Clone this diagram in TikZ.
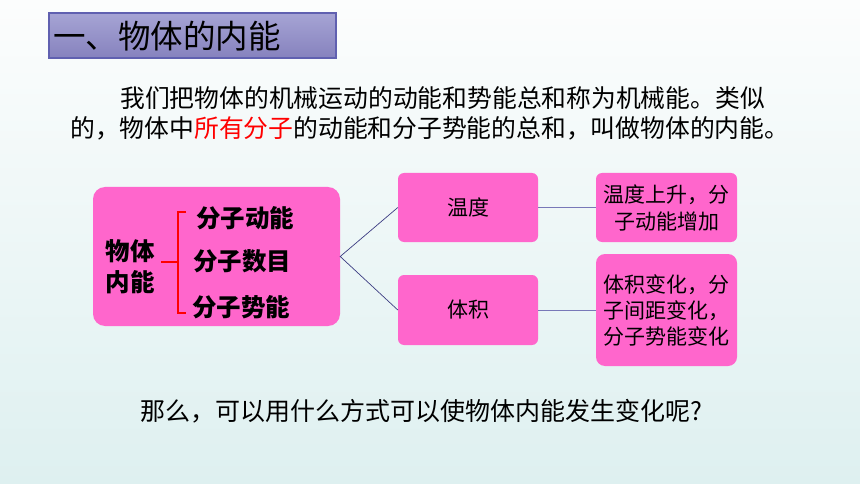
\documentclass[tikz,border=0pt]{standalone}
\usepackage{fontspec}
\newfontfamily\cjk{Noto Sans CJK SC}
\usetikzlibrary{positioning}
\definecolor{boxpink}{RGB}{255,102,204}
\definecolor{linknavy}{RGB}{60,60,130}
\definecolor{linkblue}{RGB}{120,120,184}
\definecolor{titletop}{RGB}{166,164,212}
\definecolor{titlebot}{RGB}{134,130,190}
\definecolor{titleedge}{RGB}{96,96,176}
\definecolor{bgtop}{RGB}{252,253,253}
\definecolor{bgbot}{RGB}{222,240,240}

\begin{document}
\begin{tikzpicture}[x=1pt,y=-1pt,
    every node/.style={inner sep=0pt,font=\cjk},
    pinkbox/.style={fill=boxpink,rounded corners=6pt,align=center},
    bigtext/.style={font=\cjk\fontsize{24.5}{31}\selectfont\bfseries},
    smalltext/.style={font=\cjk\fontsize{21}{27}\selectfont},
    bodytext/.style={font=\cjk\fontsize{24.8}{30}\selectfont,anchor=west}
    ]

    %background of the slide
    \shade[top color=bgtop,bottom color=bgbot] (0,0) rectangle (860,484);
    \useasboundingbox (0,0) rectangle (860,484);

    %title bar
    \shade[top color=titletop,bottom color=titlebot] (49,13) rectangle (336,58);
    \draw[titleedge,line width=1.3pt] (49,13) rectangle (336,58);
    \node[anchor=west,font=\cjk\fontsize{32.5}{36}\selectfont] (title) at (53,36) {一、物体的内能};

    %introduction text
    \node[bodytext] (line1) at (120,98) {我们把物体的机械运动的动能和势能总和称为机械能。类似};
    \node[bodytext] (line2) at (70,128) {的，物体中\textcolor{red}{所有分子}的动能和分子势能的总和，叫做物体的内能。};

    %left box with the bracket
    \node[pinkbox,rounded corners=12pt,minimum width=247pt,minimum height=139pt] (inner) at (216.5,256.5) {};
    \node[bigtext,align=center] (nn) at (130,267) {物体\\内能};
    \node[bigtext] (dk) at (245,218) {分子动能};
    \node[bigtext] (sm) at (242,261) {分子数目};
    \node[bigtext] (sn) at (241,307) {分子势能};
    \draw[red,line width=1.5pt] (186,212) -- (178,212) -- (178,313) -- (186,313);
    \draw[red,line width=1.5pt] (161,262) -- (178,262);

    %middle boxes
    \node[pinkbox,smalltext,minimum width=140pt,minimum height=69pt] (wd) at (468,207.5) {温度};
    \node[pinkbox,smalltext,minimum width=140pt,minimum height=70pt] (tj) at (468,310) {体积};

    %right boxes
    \node[pinkbox,smalltext,minimum width=141pt,minimum height=69pt] (r1) at (666.5,207.5) {温度上升，分\\子动能增加};
    \node[pinkbox,smalltext,rounded corners=9pt,minimum width=141pt,minimum height=112pt,font=\cjk\fontsize{21}{26}\selectfont] (r2) at (666.5,310) {体积变化，分\\子间距变化，\\分子势能变化};

    %connectors
    \draw[linknavy,line width=0.7pt] (wd.west) -- (inner.east) -- (tj.west);
    \draw[linkblue,line width=0.9pt] (wd.east) -- (r1.west);
    \draw[linkblue,line width=0.9pt] (tj.east) -- (r2.west);

    %question at the bottom
    \node[bodytext,font=\cjk\fontsize{25}{30}\selectfont] (ask) at (140,411) {那么，可以用什么方式可以使物体内能发生变化呢?};
\end{tikzpicture}
\end{document}
